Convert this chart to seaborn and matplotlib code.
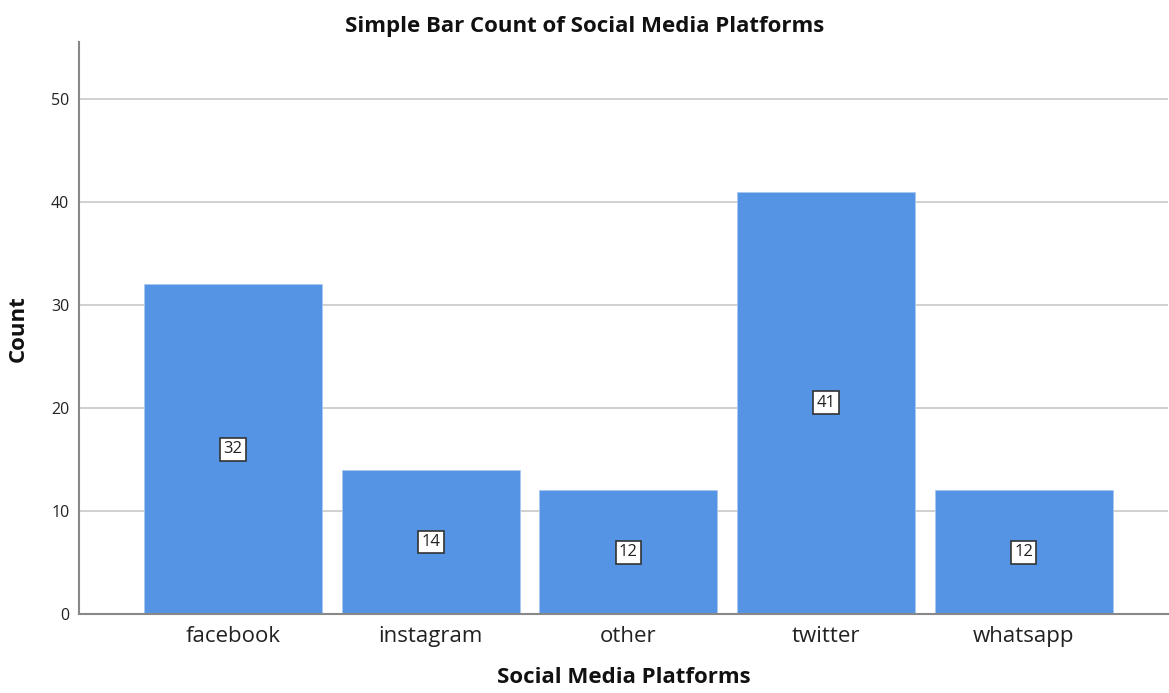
import matplotlib
matplotlib.use("Agg")
import matplotlib.pyplot as plt
import seaborn as sns
import pandas as pd

categories = ["facebook", "instagram", "other", "twitter", "whatsapp"]
counts = [32, 14, 12, 41, 12]
yticks = [0, 10, 20, 30, 40, 50]

sns.set_theme(style="white")
plt.rcParams['font.family'] = ['Open Sans', 'DejaVu Sans']

df = pd.DataFrame({"platform": categories, "count": counts})

fig = plt.figure(figsize=(11.69, 6.93), dpi=100)
ax = fig.add_axes([0.0676, 0.114, 0.9314, 0.825])

sns.barplot(data=df, x="platform", y="count", color="#5594E4", saturation=1,
            width=0.9, edgecolor="#A9C8F0", linewidth=0.6, ax=ax, zorder=2)

ax.set_ylim(0, 55.5)
ax.set_xlim(-0.78, 4.73)
ax.set_yticks(yticks)
ax.set_yticklabels([str(t) for t in yticks], fontsize=11.5, color="#222222")
ax.tick_params(axis="x", labelsize=16, colors="#222222", length=0, pad=9)
ax.tick_params(axis="y", length=0, pad=7)
ax.yaxis.grid(True, color="#C8C8C8", linewidth=1.2, zorder=0)
ax.set_axisbelow(True)

for s in ["top", "right"]:
    ax.spines[s].set_visible(False)
for s in ["left", "bottom"]:
    ax.spines[s].set_color("#888888")
    ax.spines[s].set_linewidth(1.5)

for i, v in enumerate(counts):
    ax.text(i, v / 2, str(v), ha="center", va="center", fontsize=12, color="#222222",
            bbox=dict(boxstyle="square,pad=0.2", fc="white", ec="#333333", lw=1.2), zorder=5)

ax.set_xlabel("Social Media Platforms", fontsize=16, fontweight="bold", labelpad=14, color="#111111")
ax.set_ylabel("Count", fontsize=16, fontweight="bold", labelpad=16, color="#111111")
fig.text(0.5, 0.962, "Simple Bar Count of Social Media Platforms", ha="center", va="center",
         fontsize=16, fontweight="bold", color="#111111")

fig.savefig("out.png", dpi=100)
